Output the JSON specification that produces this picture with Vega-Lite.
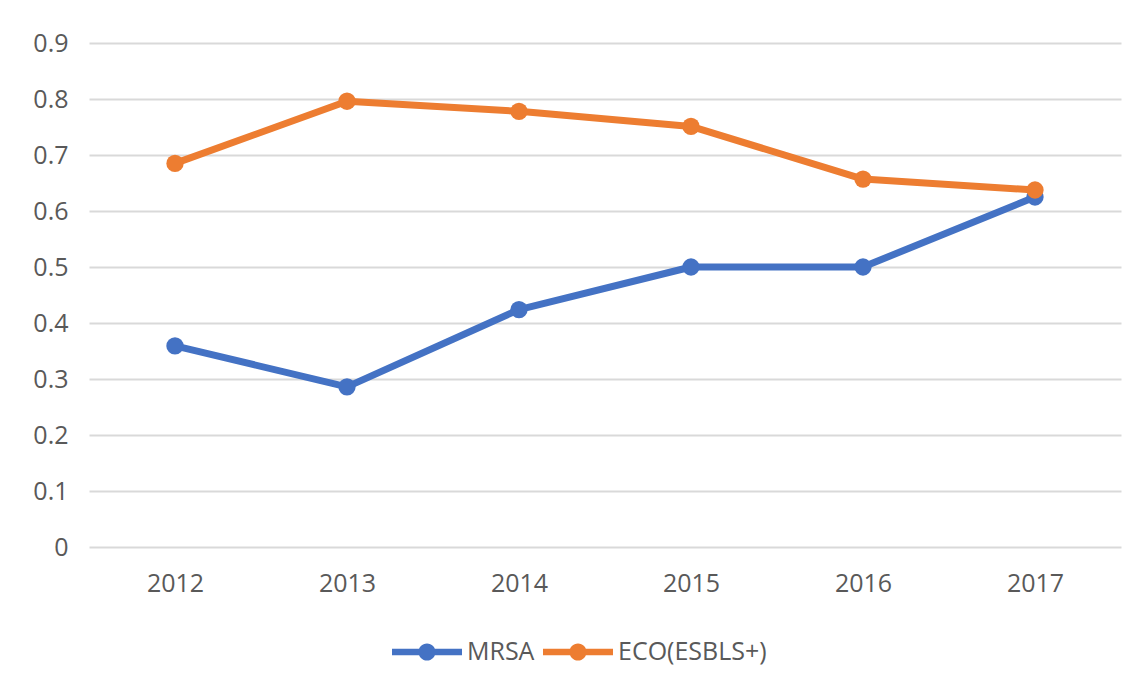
{
  "$schema": "https://vega.github.io/schema/vega-lite/v6.json",
  "autosize": "none",
  "width": 1032,
  "height": 504,
  "padding": {"left": 89, "top": 43, "right": 22, "bottom": 145},
  "background": "white",
  "config": {
    "view": {"stroke": null},
    "font": "Open Sans",
    "axis": {"labelFont": "Open Sans", "labelFontSize": 25, "labelColor": "#595959"}
  },
  "data": {
    "values": [
      {"year": "2012", "series": "MRSA", "value": 0.359},
      {"year": "2013", "series": "MRSA", "value": 0.286},
      {"year": "2014", "series": "MRSA", "value": 0.424},
      {"year": "2015", "series": "MRSA", "value": 0.5},
      {"year": "2016", "series": "MRSA", "value": 0.5},
      {"year": "2017", "series": "MRSA", "value": 0.625},
      {"year": "2012", "series": "ECO(ESBLS+)", "value": 0.685},
      {"year": "2013", "series": "ECO(ESBLS+)", "value": 0.796},
      {"year": "2014", "series": "ECO(ESBLS+)", "value": 0.778},
      {"year": "2015", "series": "ECO(ESBLS+)", "value": 0.751},
      {"year": "2016", "series": "ECO(ESBLS+)", "value": 0.657},
      {"year": "2017", "series": "ECO(ESBLS+)", "value": 0.6375}
    ]
  },
  "encoding": {
    "x": {
      "field": "year", "type": "ordinal",
      "scale": {"type": "point", "padding": 0.5},
      "axis": {"title": null, "domain": false, "ticks": false, "grid": false, "labelAngle": 0, "labelPadding": 24}
    },
    "y": {
      "field": "value", "type": "quantitative",
      "scale": {"domain": [0, 0.9], "nice": false},
      "axis": {
        "title": null, "domain": false, "ticks": false,
        "values": [0, 0.1, 0.2, 0.3, 0.4, 0.5, 0.6, 0.7, 0.8, 0.9],
        "format": ".1~f",
        "gridColor": "#d9d9d9", "gridWidth": 2,
        "labelPadding": 21
      }
    },
    "color": {
      "field": "series", "type": "nominal",
      "sort": ["MRSA", "ECO(ESBLS+)"],
      "scale": {"domain": ["MRSA", "ECO(ESBLS+)"], "range": ["#4472C4", "#ED7D31"]},
      "legend": {
        "title": null,
        "orient": "none",
        "direction": "horizontal",
        "legendX": 303,
        "legendY": 574,
        "padding": 0,
        "labelFont": "Open Sans",
        "labelFontSize": 25,
        "labelColor": "#595959",
        "labelOffset": 5,
        "columnPadding": 8,
        "symbolType": "M-1,-0.095 H1 V0.095 H-1 Z M-0.245,0 A0.245,0.245 0 1,1 0.245,0 A0.245,0.245 0 1,1 -0.245,0 Z",
        "symbolSize": 4900,
        "symbolStrokeWidth": 0,
        "encode": {
          "symbols": {"update": {"fill": {"scale": "color", "field": "value"}, "strokeWidth": {"value": 0}}}
        }
      }
    }
  },
  "layer": [
    {"mark": {"type": "line", "strokeWidth": 7, "strokeCap": "round", "strokeJoin": "round"}},
    {"mark": {"type": "point", "filled": true, "opacity": 1, "size": 300}}
  ]
}
